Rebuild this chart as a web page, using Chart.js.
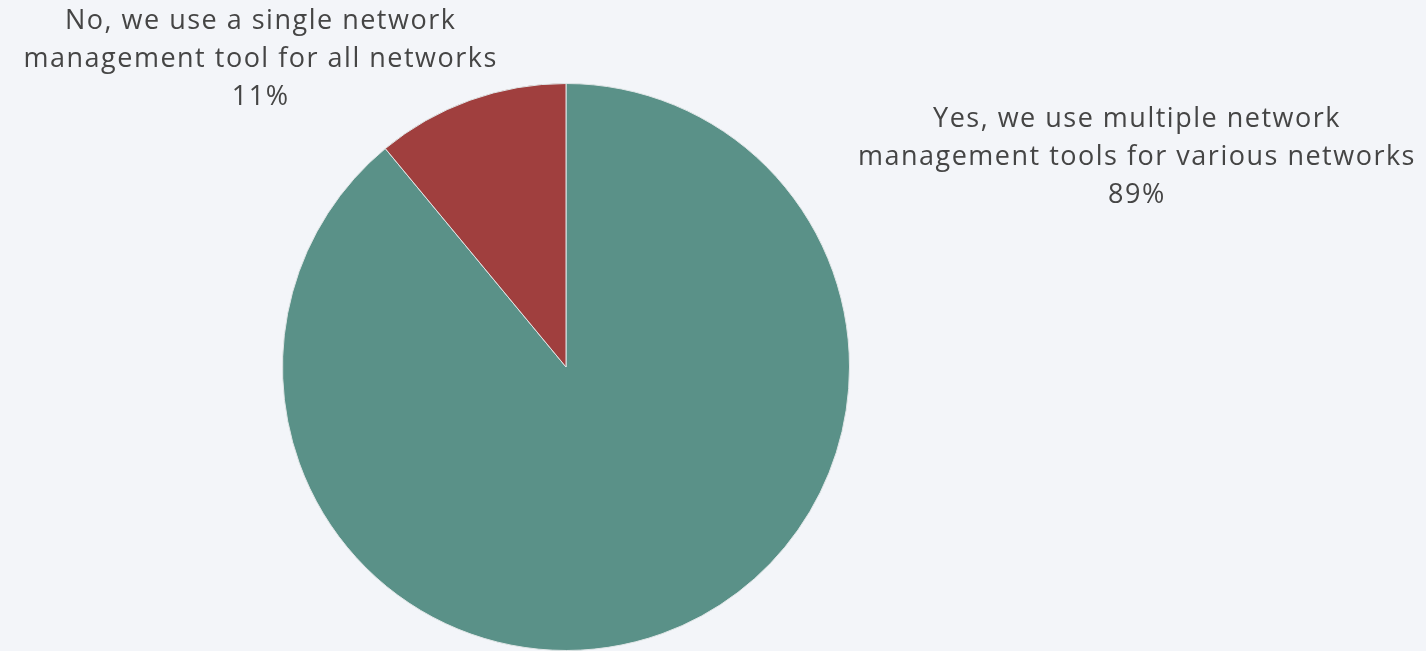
<!doctype html>
<html lang="en">
<head>
    <meta charset="utf-8">
    <title>Network management tools</title>
    <style>
        html, body { margin: 0; padding: 0; background: #f3f5f9; }
        #wrap { width: 1426px; height: 651px; position: relative; }
    </style>
</head>
<body>
<div id="wrap"><canvas id="toolsChart"></canvas></div>
<script src="https://cdn.jsdelivr.net/npm/chart.js@4.4.1/dist/chart.umd.min.js"></script>
<script>
const labels = [
    ['Yes, we use multiple network', 'management tools for various networks'],
    ['No, we use a single network', 'management tool for all networks']
];
const shares = [89, 11];
const colors = ['#5a9188', '#a03f3e'];

// where each label block sits, in units of the pie radius from its centre
const labelSpots = [
    { dx: 2.014, dy: -0.74 },
    { dx: -1.077, dy: -1.085 }
];

const outsideLabels = {
    id: 'outsideLabels',
    afterDatasetsDraw(chart) {
        const ctx = chart.ctx;
        const arcs = chart.getDatasetMeta(0).data;
        ctx.save();
        ctx.font = '27px "Open Sans", sans-serif';
        ctx.letterSpacing = '1.5px';
        ctx.fillStyle = '#454545';
        ctx.textAlign = 'center';
        ctx.textBaseline = 'middle';
        arcs.forEach((arc, i) => {
            const r = arc.outerRadius;
            const cx = arc.x + labelSpots[i].dx * r;
            const cy = arc.y + labelSpots[i].dy * r;
            const lines = labels[i].concat([shares[i] + '%']);
            const lh = 38;
            lines.forEach((line, j) => {
                ctx.fillText(line, cx, cy + (j - (lines.length - 1) / 2) * lh);
            });
        });
        ctx.restore();
    }
};

const ctx = document.getElementById('toolsChart').getContext('2d');
new Chart(ctx, {
    type: 'pie',
    data: {
        labels: labels.map(l => l.join(' ')),
        datasets: [{
            data: shares,
            backgroundColor: colors,
            borderColor: '#dfe5e6',
            borderWidth: 1
        }]
    },
    options: {
        responsive: true,
        maintainAspectRatio: false,
        animation: false,
        layout: { padding: { top: 83, bottom: 0, left: 0, right: 294 } },
        plugins: {
            legend: { display: false },
            tooltip: { enabled: false }
        }
    },
    plugins: [outsideLabels]
});
</script>
</body>
</html>
